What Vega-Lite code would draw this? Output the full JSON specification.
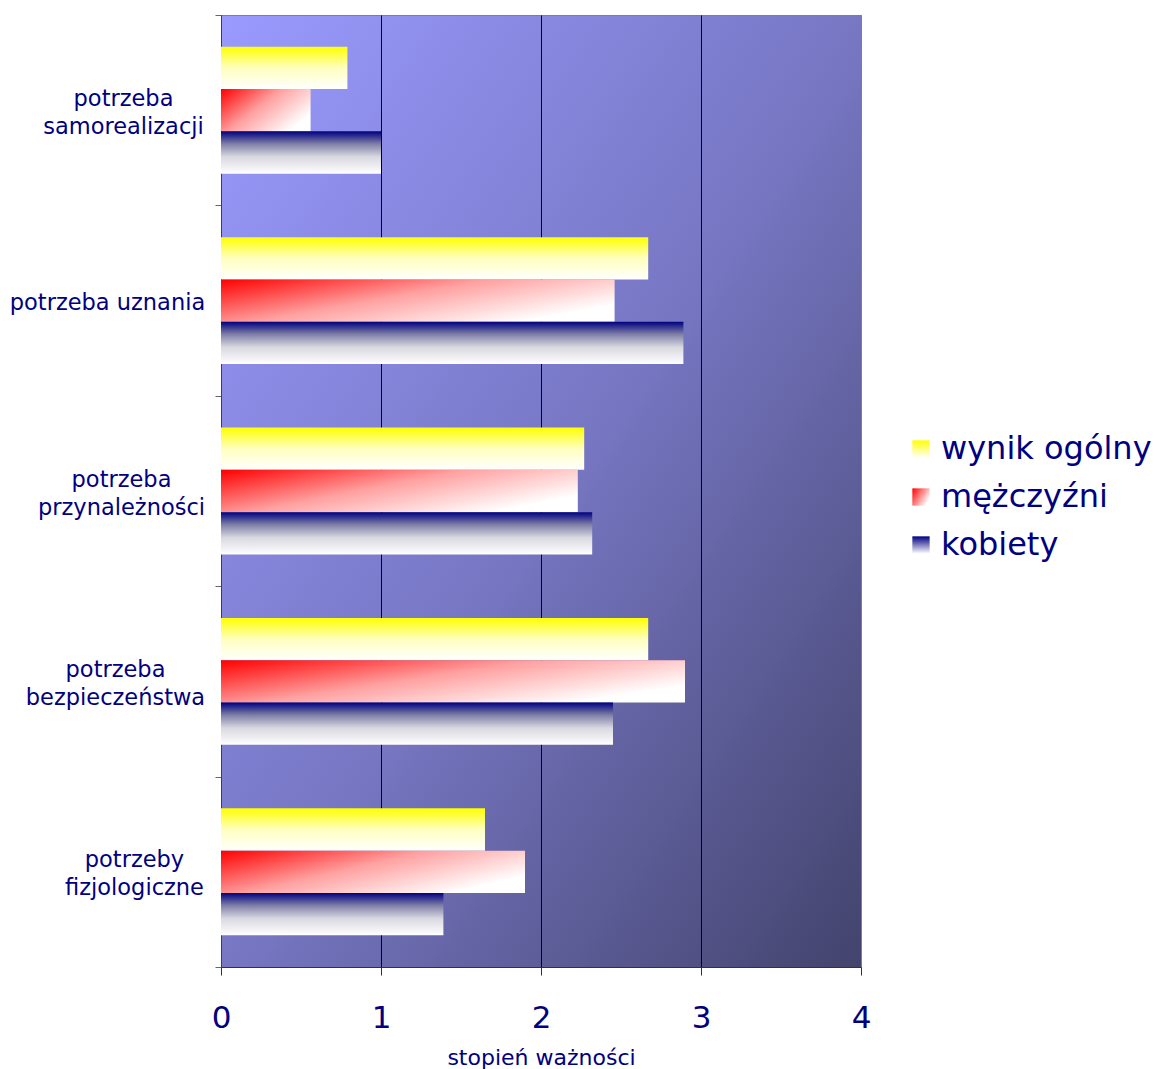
{
  "$schema": "https://vega.github.io/schema/vega-lite/v6.json",
  "width": 640,
  "height": 952,
  "autosize": {"type": "none"},
  "padding": {"left": 221, "top": 15, "right": 294, "bottom": 102},
  "background": "white",
  "view": {
    "fill": {
      "gradient": "linear", "x1": 0, "y1": 0, "x2": 1, "y2": 1,
      "stops": [
        {"offset": 0, "color": "#9a9aff"},
        {"offset": 0.5, "color": "#7777c4"},
        {"offset": 1, "color": "#43436d"}
      ]
    },
    "stroke": "#808080",
    "strokeWidth": 1
  },
  "data": {
    "values": [
      {"kategoria": "potrzeba samorealizacji", "seria": "wynik ogólny", "wartosc": 0.79},
      {"kategoria": "potrzeba samorealizacji", "seria": "mężczyźni", "wartosc": 0.56},
      {"kategoria": "potrzeba samorealizacji", "seria": "kobiety", "wartosc": 1.0},
      {"kategoria": "potrzeba uznania", "seria": "wynik ogólny", "wartosc": 2.67},
      {"kategoria": "potrzeba uznania", "seria": "mężczyźni", "wartosc": 2.46},
      {"kategoria": "potrzeba uznania", "seria": "kobiety", "wartosc": 2.89},
      {"kategoria": "potrzeba przynależności", "seria": "wynik ogólny", "wartosc": 2.27},
      {"kategoria": "potrzeba przynależności", "seria": "mężczyźni", "wartosc": 2.23},
      {"kategoria": "potrzeba przynależności", "seria": "kobiety", "wartosc": 2.32},
      {"kategoria": "potrzeba bezpieczeństwa", "seria": "wynik ogólny", "wartosc": 2.67},
      {"kategoria": "potrzeba bezpieczeństwa", "seria": "mężczyźni", "wartosc": 2.9},
      {"kategoria": "potrzeba bezpieczeństwa", "seria": "kobiety", "wartosc": 2.45},
      {"kategoria": "potrzeby fizjologiczne", "seria": "wynik ogólny", "wartosc": 1.65},
      {"kategoria": "potrzeby fizjologiczne", "seria": "mężczyźni", "wartosc": 1.9},
      {"kategoria": "potrzeby fizjologiczne", "seria": "kobiety", "wartosc": 1.39}
    ]
  },
  "encoding": {
    "y": {
      "field": "kategoria",
      "type": "nominal",
      "sort": null,
      "scale": {"paddingInner": 0, "paddingOuter": 0},
      "axis": {
        "title": null,
        "grid": false,
        "domainColor": "#404040",
        "tickColor": "#666666",
        "tickSize": 6,
        "tickBand": "extent",
        "labelPadding": 10,
        "labelAlign": "center",
        "labelBaseline": "middle",
        "labelFont": "DejaVu Sans",
        "labelFontSize": 22.5,
        "labelColor": "#000080",
        "labelLineHeight": 28,
        "labelLimit": 0,
        "labelOffset": 2,
        "labelExpr": "!isValid(datum.value) ? '' : datum.value === 'potrzeba uznania' ? datum.value : split(datum.value, ' ')",
        "encoding": {
          "labels": {
            "dx": {
              "condition": [
                {"test": "datum.value === 'potrzeba samorealizacji'", "value": -82},
                {"test": "datum.value === 'potrzeba uznania'", "value": -98},
                {"test": "datum.value === 'potrzeba przynależności'", "value": -84},
                {"test": "datum.value === 'potrzeba bezpieczeństwa'", "value": -90}
              ],
              "value": -71
            },
            "dy": {
              "condition": {"test": "datum.value === 'potrzeba uznania'", "value": 0},
              "value": -14
            }
          }
        }
      }
    },
    "yOffset": {
      "field": "seria",
      "sort": null,
      "scale": {"paddingInner": 0, "paddingOuter": 0.75}
    },
    "x": {
      "field": "wartosc",
      "type": "quantitative",
      "scale": {"domain": [0, 4], "nice": false},
      "axis": {
        "title": "stopień ważności",
        "values": [0, 1, 2, 3, 4],
        "grid": true,
        "gridColor": {"condition": {"test": "datum.value === 4", "value": "#808080"}, "value": "#000000"},
        "gridWidth": 1,
        "domainColor": "#333333",
        "tickColor": "#333333",
        "tickSize": 8,
        "labelFont": "DejaVu Sans",
        "labelFontSize": 31,
        "labelColor": "#000080",
        "labelPadding": 28,
        "labelFlush": false,
        "labelBaseline": "top",
        "titleFont": "DejaVu Sans",
        "titleFontSize": 22,
        "titleFontWeight": "normal",
        "titleColor": "#000080",
        "titleY": 97,
        "titleBaseline": "alphabetic"
      }
    }
  },
  "layer": [
    {
      "mark": {"type": "bar", "fillOpacity": 0, "strokeOpacity": 0},
      "encoding": {
        "stroke": {
          "field": "seria",
          "type": "nominal",
          "scale": {
            "domain": ["wynik ogólny", "mężczyźni", "kobiety"],
            "range": ["#ffff00", "#ff0000", "#000080"]
          },
          "legend": {
            "title": null,
            "orient": "none",
            "legendX": 684,
            "legendY": 418,
            "padding": 0,
            "symbolType": "square",
            "symbolSize": 300,
            "symbolStrokeWidth": 0,
            "symbolOpacity": 1,
            "labelFont": "DejaVu Sans",
            "labelFontSize": 32,
            "labelColor": "#000080",
            "labelOffset": 4,
            "labelLimit": 0,
            "rowPadding": 16,
            "encoding": {
              "symbols": {
                "fill": {
                  "condition": [
                    {
                      "test": "datum.value === 'wynik ogólny'",
                      "value": {"gradient": "linear", "x1": 0, "y1": 0, "x2": 0, "y2": 1, "stops": [{"offset": 0, "color": "#ffff00"}, {"offset": 1, "color": "#ffffff"}]}
                    },
                    {
                      "test": "datum.value === 'mężczyźni'",
                      "value": {"gradient": "linear", "x1": 0, "y1": 0, "x2": 1, "y2": 0.6, "stops": [{"offset": 0, "color": "#ff0000"}, {"offset": 1, "color": "#ffffff"}]}
                    }
                  ],
                  "value": {"gradient": "linear", "x1": 0, "y1": 0, "x2": 0, "y2": 1, "stops": [{"offset": 0, "color": "#000080"}, {"offset": 1, "color": "#ffffff"}]}
                },
                "fillOpacity": {"value": 1},
                "strokeOpacity": {"value": 0},
                "opacity": {"value": 1}
              }
            }
          }
        }
      }
    },
    {
      "mark": {"type": "bar"},
      "encoding": {
        "fill": {
          "condition": [
            {
              "test": "datum.seria === 'wynik ogólny'",
              "value": {
                "gradient": "linear", "x1": 0, "y1": 0, "x2": 0, "y2": 1,
                "stops": [
                  {"offset": 0, "color": "#ffff00"},
                  {"offset": 0.5, "color": "#ffffc0"},
                  {"offset": 1, "color": "#ffffff"}
                ]
              }
            },
            {
              "test": "datum.seria === 'mężczyźni'",
              "value": {
                "gradient": "linear", "x1": 0, "y1": 0, "x2": 1, "y2": 0.6,
                "stops": [
                  {"offset": 0, "color": "#ff0000"},
                  {"offset": 0.5, "color": "#ffa0a0"},
                  {"offset": 1, "color": "#ffffff"}
                ]
              }
            }
          ],
          "value": {
            "gradient": "linear", "x1": 0, "y1": 0, "x2": 0, "y2": 1,
            "stops": [
              {"offset": 0, "color": "#000080"},
              {"offset": 0.3, "color": "#8080a8"},
              {"offset": 0.6, "color": "#d8d8e0"},
              {"offset": 1, "color": "#ffffff"}
            ]
          }
        }
      }
    }
  ]
}
